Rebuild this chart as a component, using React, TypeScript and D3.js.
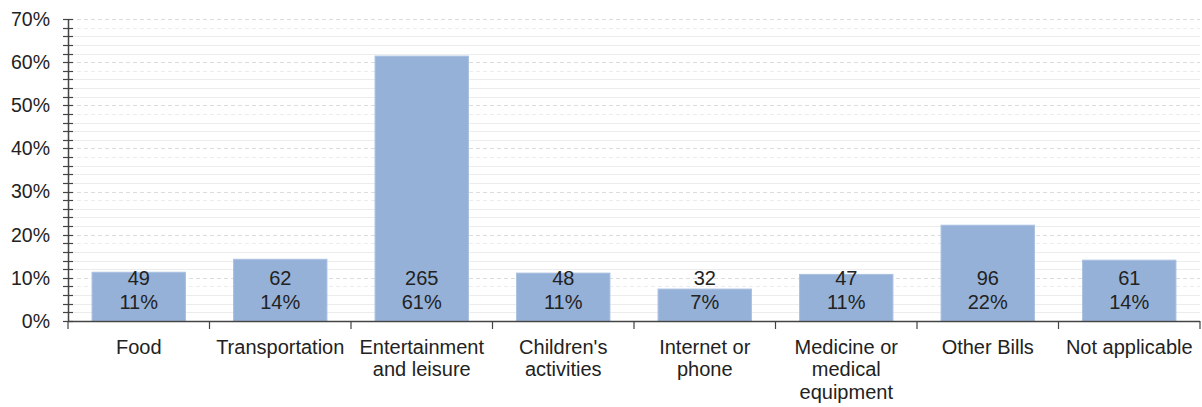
import React from "react";
import * as d3 from "d3";

const categories: string[][] = [
  ["Food"],
  ["Transportation"],
  ["Entertainment", "and leisure"],
  ["Children's", "activities"],
  ["Internet or", "phone"],
  ["Medicine or", "medical", "equipment"],
  ["Other Bills"],
  ["Not applicable"],
];
const counts = [49, 62, 265, 48, 32, 47, 96, 61];
const percents = [11.3, 14.3, 61.4, 11.1, 7.4, 10.8, 22.2, 14.1];
const percentLabels = ["11%", "14%", "61%", "11%", "7%", "11%", "22%", "14%"];
const yTicks = [0, 10, 20, 30, 40, 50, 60, 70];

export default function App() {
  const W = 1202, H = 407;
  const left = 68, right = 1200, top = 19, bottom = 321;
  const x = d3.scaleBand<number>().domain(d3.range(categories.length)).range([left, right]).paddingInner(0.34).paddingOuter(0.17);
  const band = d3.scaleBand<number>().domain(d3.range(categories.length)).range([left, right]);
  const y = d3.scaleLinear().domain([0, 70]).range([bottom, top]);
  const minor = d3.range(0, 70.001, 2);
  const font = "'Liberation Sans', Arial, sans-serif";
  const text = "#222";
  const axis = "#444";
  return (
    <svg width={W} height={H} style={{ position: "absolute", left: 0, top: 0, background: "#fff" }} fontFamily={font}>
      {minor.filter(v => v > 0).map(v => (
        <line key={"g" + v} x1={left + 2} x2={right} y1={Math.round(y(v)) + 0.5} y2={Math.round(y(v)) + 0.5}
          stroke={v % 10 === 0 ? "#dcdcdc" : "#ececec"} strokeWidth={1}
          strokeDasharray={v % 10 === 0 || v % 10 === 8 ? "4,3" : undefined} />
      ))}
      {counts.map((c, i) => (
        <rect key={"b" + i} x={x(i)} y={y(percents[i])} width={x.bandwidth()} height={bottom - y(percents[i])}
          fill="#95b1d8" stroke="#a9c0e0" strokeWidth={1} />
      ))}
      {counts.map((c, i) => {
        const cx = x(i)! + x.bandwidth() / 2;
        return (
          <g key={"l" + i} fontSize={20} fill={text} textAnchor="middle">
            <text x={cx} y={278} dy="0.35em">{c}</text>
            <text x={cx} y={302} dy="0.35em">{percentLabels[i]}</text>
          </g>
        );
      })}
      {/* y axis */}
      <line x1={left + 0.5} x2={left + 0.5} y1={top} y2={bottom} stroke={axis} strokeWidth={1.5} />
      {minor.map(v => (
        <line key={"t" + v} x1={left - 5} x2={left + 5} y1={Math.round(y(v)) + 0.5} y2={Math.round(y(v)) + 0.5} stroke={axis} strokeWidth={1.2} />
      ))}
      {yTicks.map(v => (
        <text key={"yl" + v} x={50} y={y(v)} dy="0.35em" textAnchor="end" fontSize={19.5} fill={text}>{v + "%"}</text>
      ))}
      {/* x axis */}
      <line x1={left} x2={right} y1={bottom + 0.5} y2={bottom + 0.5} stroke={axis} strokeWidth={1.5} />
      {d3.range(categories.length + 1).map(i => {
        const xx = i < categories.length ? band(i)! : right;
        return <line key={"xt" + i} x1={xx} x2={xx} y1={bottom} y2={bottom + 8} stroke={axis} strokeWidth={1.2} />;
      })}
      {categories.map((lines, i) => {
        const cx = band(i)! + band.bandwidth() / 2;
        return (
          <text key={"c" + i} textAnchor="middle" fontSize={20} fill={text}>
            {lines.map((ln, j) => (
              <tspan key={j} x={cx} y={347 + j * 22.3} dy="0.35em">{ln}</tspan>
            ))}
          </text>
        );
      })}
    </svg>
  );
}
